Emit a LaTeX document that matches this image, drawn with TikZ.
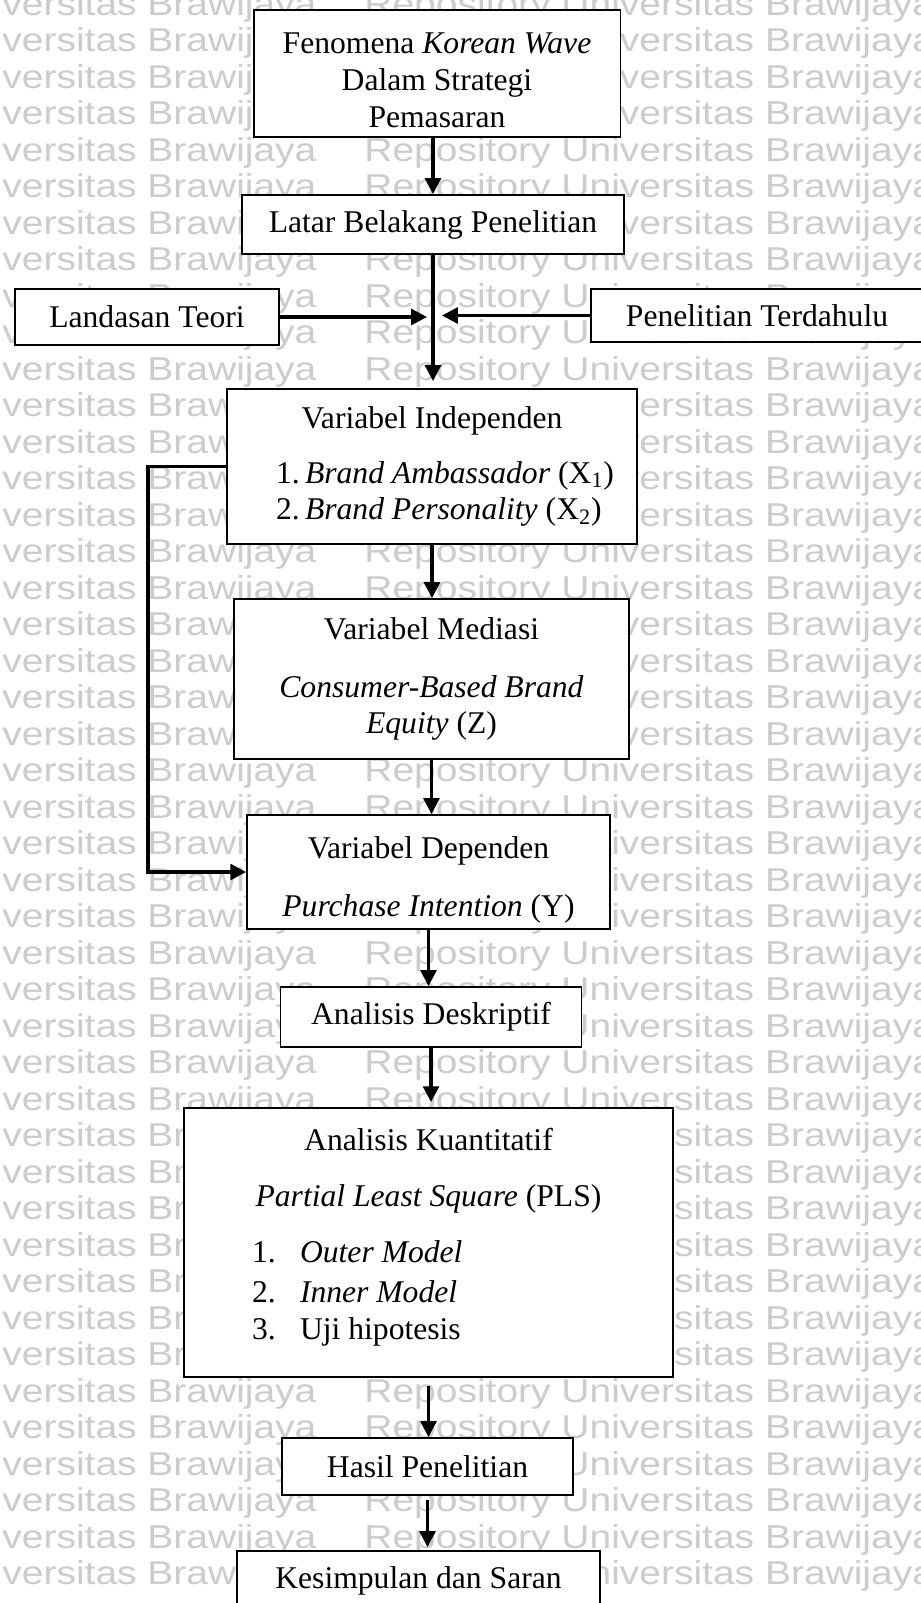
\documentclass[tikz,border=0pt]{standalone}
\usepackage{fontspec}
\setmainfont{Liberation Serif}
\newfontfamily\wmfont{Liberation Sans}
\usetikzlibrary{arrows.meta}

\tikzset{
	box/.style={draw, line width=1.1pt, fill=white, align=center, inner sep=0pt,
		font=\fontsize{18pt}{21pt}\selectfont},
	arr/.style={line width=1.8pt, -{Triangle[length=9pt, width=9pt]}},
	wm/.style={anchor=base west, inner sep=0pt, text=black!20, xscale=1.18,
		font=\wmfont\fontsize{18.8pt}{18.8pt}\selectfont}
}

\begin{document}
\begin{tikzpicture}[x=0.02cm, y=-0.02cm]
	\useasboundingbox (0, 0) rectangle (920, 1603);
	\fill[white] (0, 0) rectangle (920, 1603);

	% watermark rows
	\foreach \k in {0, 1, ..., 43}{
		\node[wm] (wa\k) at (2, 15 + 36.5*\k) {versitas Brawijaya};
		\node[wm] (wb\k) at (364, 15 + 36.5*\k) {Repository Universitas Brawijaya};
	}

	\node[box, minimum width=7.34cm, minimum height=2.54cm] (fenomena) at (437, 73.5)
		{\rule{0pt}{0.68cm}Fenomena \textit{Korean Wave}\\Dalam Strategi\\Pemasaran};
	\node[box, minimum width=7.64cm, minimum height=1.18cm] (latar) at (433, 224.5) {Latar Belakang Penelitian};
	\node[box, minimum width=5.28cm, minimum height=1.12cm] (landasan) at (147, 317) {Landasan Teori};
	\node[box, minimum width=6.64cm, minimum height=1.06cm] (terdahulu) at (757, 315.5) {Penelitian Terdahulu};

	\node[box, minimum width=8.2cm, minimum height=3.1cm] (indep) at (432, 466.5)
		{Variabel Independen\\[0.36cm]
		\makebox[6.24cm][l]{\makebox[0.58cm][l]{1.}\textit{Brand Ambassador} (X\textsubscript{1})}\\
		\makebox[6.24cm][l]{\makebox[0.58cm][l]{2.}\textit{Brand Personality} (X\textsubscript{2})}};
	\node[box, minimum width=7.9cm, minimum height=3.2cm] (mediasi) at (431.5, 679)
		{Variabel Mediasi\\[0.42cm]\textit{Consumer-Based Brand}\\\textit{Equity} (Z)};
	\node[box, minimum width=7.26cm, minimum height=2.28cm] (dependen) at (428.5, 872)
		{\rule{0pt}{0.74cm}Variabel Dependen\\[0.42cm]\textit{Purchase Intention} (Y)};

	\node[box, minimum width=6.02cm, minimum height=1.2cm] (deskriptif) at (431, 1017) {Analisis Deskriptif};
	\node[box, minimum width=9.78cm, minimum height=5.38cm] (kuantitatif) at (428.5, 1242.5)
		{Analisis Kuantitatif\\[0.4cm]\textit{Partial Least Square} (PLS)\\[0.38cm]
		\makebox[7.06cm][l]{\makebox[0.96cm][l]{1.}\textit{Outer Model}}\\[1.5pt]
		\makebox[7.06cm][l]{\makebox[0.96cm][l]{2.}\textit{Inner Model}}\\
		\makebox[7.06cm][l]{\makebox[0.96cm][l]{3.}Uji hipotesis\rule[-0.36cm]{0pt}{0.36cm}}};
	\node[box, minimum width=5.82cm, minimum height=1.14cm] (hasil) at (427.5, 1466.5) {Hasil Penelitian};
	\node[box, minimum width=7.26cm, minimum height=1.2cm] (kesimpulan) at (418.5, 1581) {Kesimpulan dan Saran};

	% junction of the two side boxes
	\coordinate (jl) at (427, 317);
	\coordinate (jr) at (442, 315.5);
	\coordinate (fb) at (148, 466.5);

	\draw[arr] (fenomena.south -| latar) -- (latar.north);
	\draw[arr, shorten >=0.14cm] (latar.south) -- (latar.south |- indep.north);
	\draw[arr] (landasan) -- (jl);
	\draw[arr] (terdahulu) -- (jr);
	\draw[arr] (indep.south) -- (indep.south |- mediasi.north);
	\draw[arr] (mediasi.south) -- (mediasi.south |- dependen.north);
	\draw[arr] (indep.west) -- (fb) |- (dependen.west);
	\draw[arr] (dependen.south) -- (dependen.south |- deskriptif.north);
	\draw[arr, shorten >=0.1cm] (deskriptif.south) -- (deskriptif.south |- kuantitatif.north);
	\draw[arr, shorten <=0.16cm] (kuantitatif.south) -- (kuantitatif.south |- hasil.north);
	\draw[arr, shorten <=0.08cm, shorten >=0.06cm] (hasil.south) -- (hasil.south |- kesimpulan.north);
\end{tikzpicture}
\end{document}
